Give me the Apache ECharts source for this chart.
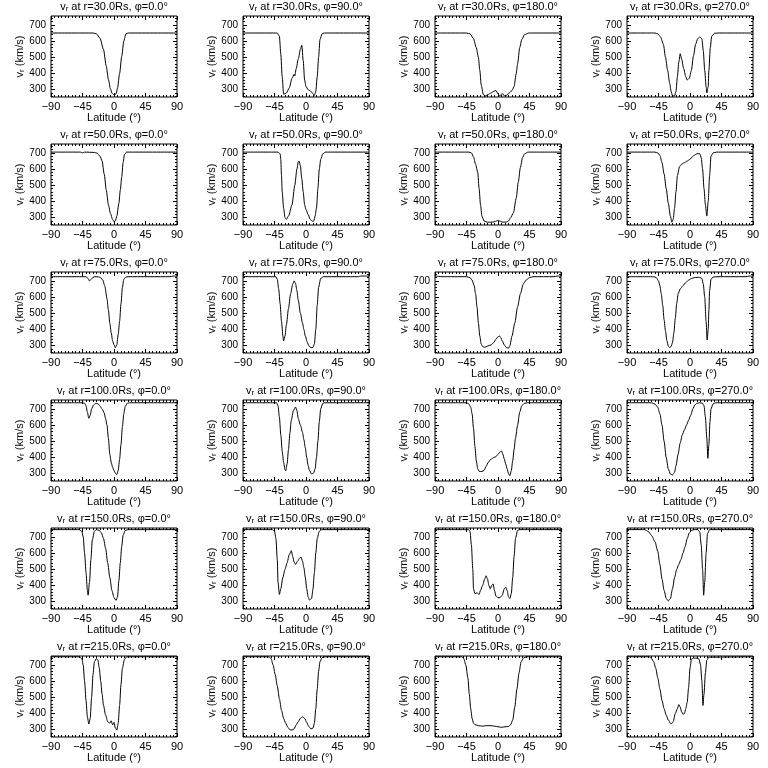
<!DOCTYPE html>
<html><head><meta charset="utf-8">
<script src="https://cdn.jsdelivr.net/npm/echarts@6/dist/echarts.min.js"></script>
<style>html,body{margin:0;padding:0;background:#fff}#c{width:768px;height:768px}</style>
</head><body><div id="c"></div>
<script>
const radii = ['30.0','50.0','75.0','100.0','150.0','215.0'];
const phis = ['0.0','90.0','180.0','270.0'];
const xTicks = [-90,-45,0,45,90];
const yTicks = [300,400,500,600,700];
const yMinor = [260,280,320,340,360,380,420,440,460,480,520,540,560,580,620,640,660,680,720,740];

// r = 30 Rs
const r30_p0 = [[-90,650],[-30,650],[-25,645],[-20,618],[-15,548],[-11,445],[-8,362],[-5,305],[-3,278],[0,268],[3,275],[5,310],[8,400],[11,505],[14,600],[17,645],[21,650],[90,650]];
const r30_p90 = [[-90,650],[-41,650],[-38,630],[-36,520],[-34,380],[-32,272],[-28,280],[-24,310],[-20,370],[-17,395],[-16,385],[-14,430],[-11,490],[-8,550],[-6,575],[-4,480],[-2,360],[0,320],[3,300],[7,290],[10,275],[12,265],[14,290],[16,380],[18,500],[20,610],[23,645],[26,650],[90,650]];
const r30_p180 = [[-90,650],[-45,650],[-40,645],[-35,615],[-31,560],[-28,500],[-26,420],[-24,330],[-21,270],[-18,262],[-14,270],[-10,280],[-6,290],[-3,295],[0,275],[2,262],[5,272],[7,275],[9,262],[12,265],[16,280],[20,295],[23,320],[26,400],[28,460],[31,560],[34,610],[38,640],[44,650],[90,650]];
const r30_p270 = [[-90,650],[-50,650],[-46,645],[-42,625],[-38,580],[-35,500],[-32,420],[-29,340],[-27,290],[-25,262],[-22,262],[-20,290],[-18,380],[-16,470],[-14,522],[-12,490],[-9,430],[-6,380],[-4,360],[-1,370],[2,420],[5,510],[8,580],[11,615],[14,625],[17,615],[19,540],[21,420],[23,320],[24,280],[26,320],[27,420],[29,560],[31,630],[35,648],[40,650],[90,650]];
// r = 50 Rs
const r50_p0 = [[-90,705],[-48,705],[-45,700],[-42,705],[-28,703],[-24,698],[-20,680],[-17,650],[-14,570],[-11,470],[-8,380],[-5,325],[-2,290],[0,275],[2,280],[4,310],[7,390],[9,470],[11,550],[13,640],[15,690],[18,705],[90,705]];
const r50_p90 = [[-90,705],[-40,705],[-37,695],[-36,660],[-35,560],[-34,460],[-32,360],[-30,300],[-28,290],[-25,310],[-20,380],[-16,500],[-13,600],[-11,645],[-10,650],[-8,620],[-6,540],[-4,460],[-2,380],[0,350],[3,320],[6,290],[9,278],[11,280],[13,310],[15,360],[17,480],[19,600],[21,660],[24,695],[28,705],[90,705]];
const r50_p180 = [[-90,705],[-42,705],[-38,700],[-35,675],[-32,630],[-29,580],[-27,480],[-25,380],[-23,310],[-20,280],[-15,272],[-10,272],[-5,275],[-2,280],[0,285],[2,280],[6,273],[12,273],[15,280],[18,300],[22,330],[26,420],[29,520],[32,610],[35,670],[38,695],[43,705],[90,705]];
const r50_p270 = [[-90,705],[-50,705],[-46,700],[-43,685],[-40,640],[-37,570],[-34,480],[-31,390],[-28,310],[-26,272],[-24,290],[-22,360],[-20,460],[-18,560],[-15,615],[-12,630],[-8,640],[-4,650],[0,660],[3,675],[6,685],[10,695],[14,695],[16,670],[18,600],[20,480],[22,380],[24,310],[26,400],[28,560],[30,680],[33,700],[38,705],[90,705]];
// r = 75 Rs
const r75_p0 = [[-90,726],[-40,726],[-37,715],[-35,700],[-33,708],[-30,722],[-27,726],[-22,725],[-19,720],[-16,705],[-13,665],[-10,590],[-8,520],[-6,440],[-4,380],[-2,330],[0,305],[2,288],[4,305],[6,370],[8,450],[10,560],[12,660],[14,710],[17,724],[20,726],[80,726],[85,730],[90,730]];
const r75_p90 = [[-90,728],[-80,726],[-43,726],[-41,710],[-39,650],[-37,560],[-35,450],[-33,360],[-32,330],[-30,360],[-28,430],[-25,530],[-22,620],[-19,680],[-17,700],[-15,685],[-13,640],[-11,580],[-8,500],[-5,440],[-3,400],[-1,360],[2,320],[4,300],[7,288],[10,290],[12,310],[14,400],[16,550],[18,660],[21,715],[25,726],[75,726],[78,730],[90,730]];
const r75_p180 = [[-90,730],[-85,728],[-80,726],[-45,726],[-40,720],[-37,705],[-34,670],[-32,620],[-30,540],[-28,440],[-26,360],[-24,310],[-22,295],[-19,290],[-15,298],[-10,305],[-6,320],[-3,340],[0,355],[2,360],[4,350],[6,330],[9,305],[12,288],[15,285],[17,300],[20,360],[24,440],[28,540],[32,620],[36,680],[40,705],[45,720],[50,726],[80,726],[85,730],[90,730]];
const r75_p270 = [[-90,726],[-52,726],[-48,720],[-45,700],[-43,670],[-41,620],[-39,550],[-37,460],[-35,390],[-33,330],[-31,298],[-29,288],[-27,295],[-25,320],[-23,380],[-21,470],[-19,560],[-17,620],[-14,650],[-10,670],[-6,690],[-2,705],[2,715],[6,720],[10,722],[14,722],[17,715],[19,680],[21,600],[23,450],[24.5,335],[26,400],[27,520],[28,640],[30,710],[33,724],[40,726],[80,726],[85,730],[90,730]];
// r = 100 Rs
const r100_p0 = [[-90,738],[-45,738],[-42,735],[-40,720],[-38,680],[-36,642],[-34,660],[-32,700],[-29,725],[-26,735],[-23,732],[-20,718],[-17,700],[-14,675],[-12,640],[-10,600],[-8,520],[-6,420],[-4,370],[-2,340],[0,320],[2,303],[4,295],[6,320],[8,390],[10,480],[12,590],[14,670],[16,715],[19,735],[22,738],[90,738]];
const r100_p90 = [[-90,738],[-42,738],[-40,720],[-38,650],[-36,540],[-34,440],[-32,370],[-30,325],[-29,318],[-27,360],[-25,450],[-23,550],[-21,630],[-18,690],[-15,712],[-13,690],[-11,640],[-8,600],[-5,555],[-3,510],[-1,460],[1,400],[3,350],[5,320],[8,298],[11,305],[13,330],[15,400],[17,500],[19,620],[21,700],[24,735],[27,738],[90,738]];
const r100_p180 = [[-90,738],[-45,738],[-42,732],[-39,710],[-37,670],[-35,580],[-33,470],[-31,380],[-29,330],[-27,315],[-23,313],[-20,320],[-17,345],[-14,370],[-10,390],[-6,400],[-3,405],[0,420],[3,435],[5,440],[7,420],[9,390],[11,360],[13,330],[15,300],[17,288],[19,320],[21,380],[23,450],[25,520],[28,600],[31,680],[34,720],[38,735],[42,738],[90,738]];
const r100_p270 = [[-90,738],[-55,738],[-50,730],[-46,710],[-43,670],[-40,600],[-37,500],[-34,400],[-31,330],[-28,298],[-25,292],[-22,310],[-20,350],[-17,420],[-14,490],[-11,540],[-8,570],[-5,600],[-2,630],[1,660],[4,700],[7,725],[10,735],[14,738],[18,735],[20,720],[22,650],[24,520],[25.5,395],[27,480],[28.5,620],[30,700],[33,732],[37,738],[90,738]];
// r = 150 Rs
const r150_p0 = [[-90,745],[-50,745],[-46,735],[-44,700],[-42,600],[-40,480],[-38,370],[-37,340],[-35,420],[-33,560],[-31,680],[-28,735],[-25,745],[-21,740],[-18,725],[-15,690],[-12,630],[-9,540],[-6,450],[-3,370],[0,325],[3,308],[5,330],[7,430],[9,540],[11,640],[13,710],[16,740],[20,745],[90,745]];
const r150_p90 = [[-90,745],[-48,745],[-45,735],[-43,690],[-41,560],[-40,420],[-38,345],[-36,380],[-33,450],[-30,500],[-27,540],[-24,590],[-21,615],[-19,580],[-17,545],[-15,530],[-12,550],[-9,570],[-7,575],[-5,550],[-3,510],[-1,450],[1,380],[3,330],[5,310],[8,320],[10,380],[12,480],[14,600],[16,690],[19,735],[22,745],[90,745]];
const r150_p180 = [[-90,745],[-42,745],[-40,735],[-38,650],[-36,500],[-35,380],[-33,350],[-30,355],[-27,345],[-25,370],[-22,400],[-19,440],[-17,460],[-15,440],[-13,400],[-11,380],[-9,400],[-7,410],[-5,370],[-3,335],[0,325],[3,325],[6,340],[9,380],[11,390],[13,370],[15,330],[17,320],[19,350],[21,450],[23,580],[25,690],[28,740],[31,745],[90,745]];
const r150_p270 = [[-90,745],[-65,745],[-60,735],[-55,710],[-50,670],[-46,610],[-43,530],[-40,440],[-37,370],[-34,320],[-31,305],[-28,320],[-25,380],[-22,450],[-19,500],[-16,530],[-13,560],[-10,600],[-7,640],[-4,690],[-1,725],[2,740],[6,745],[11,745],[14,730],[16,650],[18,500],[19.5,340],[21,420],[23,600],[25,720],[28,745],[90,745]];
// r = 215 Rs
const r215_p0 = [[-90,750],[-50,750],[-46,740],[-44,700],[-42,600],[-40,480],[-38,380],[-36,335],[-34,370],[-32,500],[-30,640],[-28,720],[-25,740],[-23,730],[-21,680],[-19,600],[-17,520],[-15,450],[-12,390],[-9,350],[-6,340],[-4,355],[-2,330],[0,345],[2,310],[4,298],[6,340],[8,450],[10,580],[12,680],[15,735],[18,750],[90,750]];
const r215_p90 = [[-90,750],[-53,750],[-50,740],[-47,700],[-44,640],[-41,570],[-38,490],[-35,420],[-32,370],[-29,340],[-26,315],[-23,300],[-20,298],[-17,305],[-14,330],[-11,350],[-8,370],[-5,380],[-2,370],[1,345],[4,320],[7,305],[10,310],[12,340],[14,430],[16,550],[18,660],[20,720],[23,745],[27,750],[90,750]];
const r215_p180 = [[-90,750],[-52,750],[-49,740],[-46,700],[-43,620],[-41,520],[-39,430],[-37,370],[-35,340],[-32,330],[-28,325],[-22,322],[-16,325],[-10,325],[-5,322],[0,318],[5,315],[10,318],[15,320],[18,330],[21,360],[24,440],[27,550],[30,650],[33,720],[37,745],[41,750],[90,750]];
const r215_p270 = [[-90,750],[-58,750],[-55,740],[-52,720],[-49,680],[-46,620],[-43,550],[-40,480],[-37,430],[-34,390],[-31,360],[-28,340],[-26,338],[-24,350],[-21,400],[-18,430],[-16,455],[-14,440],[-12,410],[-10,395],[-8,400],[-6,430],[-4,470],[-2,560],[0,680],[2,735],[5,742],[10,742],[13,735],[15,700],[17,600],[18.5,450],[20,520],[22,650],[24,730],[27,748],[90,750]];

const panels = [
  [r30_p0, r30_p90, r30_p180, r30_p270],
  [r50_p0, r50_p90, r50_p180, r50_p270],
  [r75_p0, r75_p90, r75_p180, r75_p270],
  [r100_p0, r100_p90, r100_p180, r100_p270],
  [r150_p0, r150_p90, r150_p180, r150_p270],
  [r215_p0, r215_p90, r215_p180, r215_p270]
];

const YMIN = 255, YMAX = 755;
const FONT = 'Liberation Sans';
const BLACK = '#000';
const rich = {
  a: {fontSize: 11, fontFamily: FONT, fontWeight: 'normal', color: BLACK, lineHeight: 13},
  s: {fontSize: 8, fontFamily: FONT, fontWeight: 'normal', color: BLACK, lineHeight: 8, verticalAlign: 'bottom'}
};
const fmt = v => (v < 0 ? '\u2212' + (-v) : String(v));

const grids = [], xAxes = [], yAxes = [], series = [], titles = [];
for (let r = 0; r < 6; r++) {
  for (let c = 0; c < 4; c++) {
    const left = 51 + 192 * c, top = 16 + 128 * r, W = 126, H = 81;
    grids.push({left: left, top: top, width: W, height: H, show: true, borderColor: BLACK, borderWidth: 1, backgroundColor: 'transparent'});
    const gi = grids.length - 1;
    const tickStyle = {color: BLACK, width: 1};
    const xBase = {gridIndex: gi, type: 'value', min: -90, max: 90, interval: 45,
      axisLine: {show: false, onZero: false}, splitLine: {show: false}, minorSplitLine: {show: false},
      axisTick: {show: true, inside: true, length: 4, lineStyle: tickStyle},
      minorTick: {show: true, splitNumber: 9, length: 2, lineStyle: tickStyle}};
    xAxes.push(Object.assign({}, xBase, {position: 'bottom',
      axisLabel: {show: true, color: BLACK, fontSize: 11, fontFamily: FONT, margin: 4, formatter: fmt, showMinLabel: true, showMaxLabel: true},
      name: 'Latitude (\u00b0)', nameLocation: 'middle', nameGap: 15,
      nameTextStyle: {color: BLACK, fontSize: 11, fontFamily: FONT}}));
    const xi = xAxes.length - 1;
    xAxes.push(Object.assign({}, xBase, {position: 'top', axisLabel: {show: false}}));
    const yBase = {gridIndex: gi, type: 'value', min: YMIN, max: YMAX,
      axisLine: {show: false, onZero: false}, splitLine: {show: false}};
    yAxes.push(Object.assign({}, yBase, {position: 'left',
      axisTick: {show: true, inside: true, length: 4, customValues: yTicks, lineStyle: tickStyle},
      axisLabel: {show: true, customValues: yTicks, color: BLACK, fontSize: 10, fontFamily: FONT, margin: 5},
      name: '{a|v}{s|r}{a| (km/s)}', nameLocation: 'middle', nameGap: 25, nameRotate: 90,
      nameMoveOverlap: false,
      nameTextStyle: {rich: rich}}));
    const yi = yAxes.length - 1;
    yAxes.push(Object.assign({}, yBase, {position: 'left',
      axisTick: {show: true, inside: true, length: 2, customValues: yMinor, lineStyle: tickStyle},
      axisLabel: {show: false}}));
    yAxes.push(Object.assign({}, yBase, {position: 'right',
      axisTick: {show: true, inside: true, length: 4, customValues: yTicks, lineStyle: tickStyle},
      axisLabel: {show: false}}));
    yAxes.push(Object.assign({}, yBase, {position: 'right',
      axisTick: {show: true, inside: true, length: 2, customValues: yMinor, lineStyle: tickStyle},
      axisLabel: {show: false}}));
    series.push({type: 'line', xAxisIndex: xi, yAxisIndex: yi, data: panels[r][c],
      showSymbol: false, symbol: 'none', smooth: 0.25, smoothMonotone: 'x', silent: true,
      lineStyle: {color: BLACK, width: 1}, clip: true});
    titles.push({text: '{a|v}{s|r}{a| at r=' + radii[r] + 'Rs, \u03c6=' + phis[c] + '\u00b0}',
      left: left + W / 2, top: top - 16, textAlign: 'center', padding: 0,
      textStyle: {fontWeight: 'normal', rich: rich}});
  }
}

const chart = echarts.init(document.getElementById('c'), null, {renderer: 'canvas'});
chart.setOption({
  animation: false,
  backgroundColor: '#fff',
  title: titles,
  grid: grids,
  xAxis: xAxes,
  yAxis: yAxes,
  series: series
});
</script>
</body></html>
